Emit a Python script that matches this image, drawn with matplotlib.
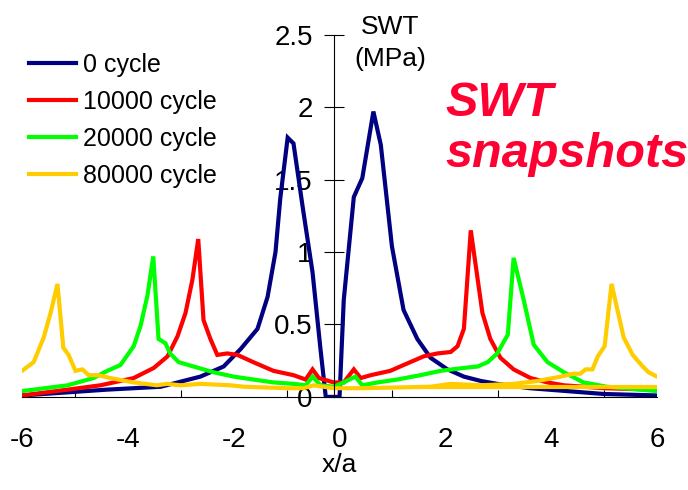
import matplotlib
matplotlib.use("Agg")
import matplotlib.pyplot as plt

plt.rcParams['font.family'] = ['Liberation Sans', 'DejaVu Sans']
plt.rcParams['axes.unicode_minus'] = False

# 0 cycle
c0_x = [-6.0, -5.2, -4.4, -3.38, -2.63, -2.19, -1.87, -1.55, -1.36, -1.21, -1.12, -0.98,
        -0.87, -0.70, -0.51, -0.36, -0.26, 0.0, 0.08, 0.27, 0.43, 0.64, 0.78, 0.99,
        1.21, 1.47, 1.72, 2.04, 2.35, 2.67, 2.98, 3.6, 4.3, 5.0, 6.0]
c0_y = [0.01, 0.03, 0.05, 0.07, 0.14, 0.21, 0.33, 0.47, 0.69, 1.00, 1.37, 1.79,
        1.75, 1.32, 0.86, 0.33, 0.0, 0.0, 0.67, 1.38, 1.51, 1.97, 1.74, 1.04,
        0.60, 0.40, 0.27, 0.19, 0.14, 0.11, 0.09, 0.06, 0.04, 0.02, 0.01]

# 10000 cycle
c1_x = [-6.0, -5.14, -4.52, -3.89, -3.51, -3.25, -3.06, -2.91, -2.78, -2.67, -2.57,
        -2.44, -2.31, -2.12, -1.93, -1.63, -1.25, -0.87, -0.64, -0.51, -0.39, -0.11,
        0.08, 0.27, 0.40, 0.59, 0.96, 1.21, 1.59, 1.85, 2.10, 2.23, 2.35, 2.48, 2.70,
        2.85, 3.04, 3.29, 3.61, 3.93, 4.24, 5.0, 6.0]
c1_y = [0.01, 0.05, 0.08, 0.13, 0.20, 0.28, 0.42, 0.58, 0.81, 1.09, 0.53,
        0.40, 0.29, 0.30, 0.29, 0.24, 0.18, 0.15, 0.12, 0.19, 0.13, 0.10,
        0.10, 0.19, 0.13, 0.15, 0.18, 0.22, 0.28, 0.30, 0.31, 0.35, 0.47, 1.15, 0.58,
        0.40, 0.27, 0.19, 0.13, 0.10, 0.08, 0.06, 0.05]

# 20000 cycle
c2_x = [-6.0, -5.14, -4.65, -4.39, -4.14, -3.89, -3.76, -3.63, -3.52, -3.42, -3.29,
        -3.2, -3.04, -2.76, -2.38, -2.0, -1.63, -1.25, -0.87, -0.64, -0.51, -0.36,
        -0.11, 0.02, 0.30, 0.43, 0.72, 1.09, 1.53, 1.91, 2.35, 2.61, 2.80, 2.98, 3.18,
        3.29, 3.48, 3.67, 3.93, 4.24, 4.61, 5.05, 6.0]
c2_y = [0.04, 0.08, 0.13, 0.18, 0.22, 0.35, 0.49, 0.70, 0.97, 0.40, 0.37,
        0.30, 0.24, 0.21, 0.17, 0.14, 0.12, 0.10, 0.09, 0.08, 0.14, 0.08,
        0.07, 0.09, 0.14, 0.08, 0.10, 0.12, 0.15, 0.18, 0.20, 0.21, 0.24, 0.30, 0.43,
        0.96, 0.67, 0.36, 0.24, 0.17, 0.10, 0.07, 0.04]

# 80000 cycle
c3_x = [-6.0, -5.78, -5.59, -5.46, -5.33, -5.22, -5.12, -4.99, -4.86, -4.74, -4.56,
        -4.33, -3.89, -3.45, -3.26, -3.0, -2.63, -2.06, -1.8, -0.98, -0.68, -0.49,
        -0.11, 0.43, 1.72, 2.10, 2.67, 3.29, 3.74, 4.18, 4.42, 4.55, 4.65, 4.78, 4.88,
        5.01, 5.14, 5.37, 5.54, 5.73, 5.84, 6.0]
c3_y = [0.18, 0.24, 0.41, 0.58, 0.78, 0.34, 0.29, 0.18, 0.19, 0.15, 0.15,
        0.13, 0.10, 0.08, 0.09, 0.08, 0.09, 0.08, 0.07, 0.06, 0.06, 0.08,
        0.06, 0.06, 0.07, 0.09, 0.08, 0.09, 0.11, 0.14, 0.16, 0.16, 0.19, 0.19, 0.28,
        0.35, 0.78, 0.41, 0.29, 0.21, 0.17, 0.14]
c3_tail_x = [1.5, 3.0, 4.5, 6.0]
c3_tail_y = [0.065, 0.065, 0.065, 0.065]

labels = ['0 cycle', '10000 cycle', '20000 cycle', '80000 cycle']
colors = ['#000080', '#FF0000', '#00FF00', '#FFCC00']

fig = plt.figure(figsize=(6.88, 4.9), dpi=100)
ax = fig.add_axes([0.032, 0.19, 0.923, 0.739])

series = [(c0_x, c0_y), (c1_x, c1_y), (c2_x, c2_y), (c3_x, c3_y)]
handles = []
for (xs, ys), lab, col in zip(series, labels, colors):
    h, = ax.plot(xs, ys, color=col, lw=3, label=lab, solid_joinstyle='miter')
    handles.append(h)
ax.plot(c3_tail_x, c3_tail_y, color=colors[3], lw=3)

ax.set_xlim(-6, 6)
ax.set_ylim(0, 2.5)

ax.spines['top'].set_visible(False)
ax.spines['right'].set_visible(False)
ax.spines['left'].set_position(('data', -0.1))
ax.spines['left'].set_linewidth(0.8)
ax.spines['bottom'].set_linewidth(0.8)

ax.set_yticks([0, 0.5, 1, 1.5, 2, 2.5])
ax.set_yticklabels(['0', '0.5', '1', '1.5', '2', '2.5'])
ax.tick_params(axis='y', direction='inout', length=15, width=0.8, pad=8, labelsize=20)

ax.set_xticks([-6, -4, -2, 0, 2, 4, 6])
ax.set_xticks(range(-5, 6), minor=True)
ax.tick_params(axis='x', which='both', direction='in', length=5, width=0.8, pad=22, labelsize=20)
ax.tick_params(axis='x', which='major', length=0)

ax.set_xlabel('x/a', fontsize=19, labelpad=0)
fig.text(390 / 688, 1 - 43 / 490, 'SWT\n(MPa)', fontsize=19, ha='center', va='center',
         linespacing=1.45)

ax.legend(handles=handles, loc='upper left', bbox_to_anchor=(0.042, 0.892),
          bbox_transform=fig.transFigure, frameon=False, fontsize=18,
          handlelength=1.9, handletextpad=0.25, labelspacing=0.52, borderpad=0,
          borderaxespad=0)

fig.text(445 / 688, 1 - 129 / 490, 'SWT\nsnapshots', fontsize=35, color='#FF0033',
         fontweight='bold', fontstyle='italic', ha='left', va='center', linespacing=1.15)

fig.savefig('out.png', dpi=100)
